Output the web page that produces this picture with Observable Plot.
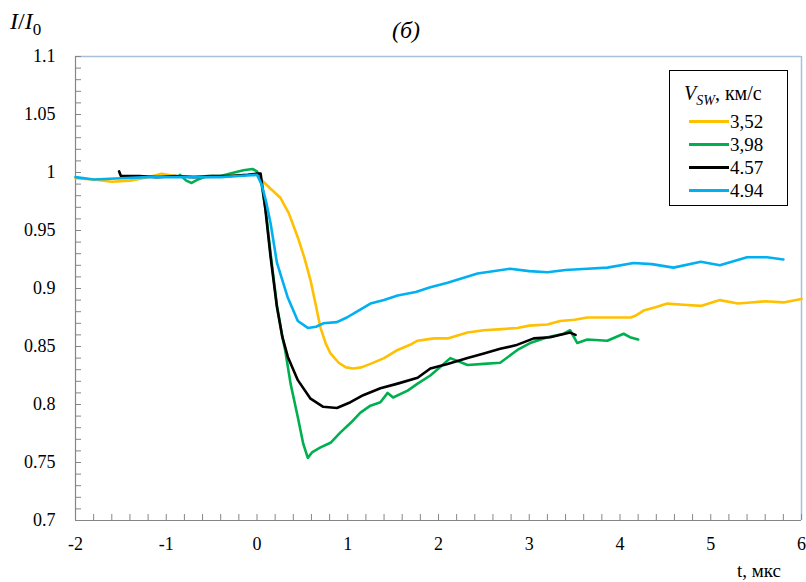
<!DOCTYPE html>
<html>
<head>
<meta charset="utf-8">
<script src="https://cdn.jsdelivr.net/npm/d3@7"></script>
<script src="https://cdn.jsdelivr.net/npm/@observablehq/plot@0.6"></script>
</head>
<body style="margin:0;background:#fff">
<div id="wrap" style="position:relative;width:806px;height:582px;font-family:'Liberation Serif' !important;color:#000">
  <div style="position:absolute;left:10px;top:9px;font-size:24px;line-height:1;white-space:nowrap;font-family:'Liberation Serif' !important"><i style="font-family:'Liberation Serif' !important">I</i>/<i style="font-family:'Liberation Serif' !important">I</i><sub style="font-size:17px;font-family:'Liberation Serif' !important">0</sub></div>
  <div style="position:absolute;left:392px;top:18px;font-size:24px;line-height:1;white-space:nowrap;font-family:'Liberation Serif' !important"><i style="font-family:'Liberation Serif' !important">(б)</i></div>
  <div style="position:absolute;left:737px;top:561px;font-size:19px;line-height:1;white-space:nowrap;font-family:'Liberation Serif' !important">t, мкс</div>
  <div id="legend" style="position:absolute;left:669px;top:70px;width:117px;height:134px;border:1.5px solid #000;background:#fff;font-family:'Liberation Serif' !important;z-index:2">
    <div style="position:absolute;left:14px;top:12px;font-size:20px;line-height:1;white-space:nowrap;font-family:'Liberation Serif' !important"><i style="font-family:'Liberation Serif' !important">V<sub style="font-size:14px;font-family:'Liberation Serif' !important">SW</sub></i>, км/с</div>
  </div>
</div>
<script>
// Series names (legend)
const seriesNames = ["3,52", "3,98", "4.57", "4.94"];
const seriesColors = ["#FFC000", "#00B050", "#000000", "#00B0F0"];

// Series 3,52
const t352 = [-2, -1.8, -1.6, -1.4, -1.2, -1.05, -0.9, -0.6, -0.3, -0.1, 0, 0.07, 0.15, 0.26, 0.35, 0.45, 0.52, 0.59, 0.65, 0.70, 0.76, 0.81, 0.9, 0.98, 1.06, 1.15, 1.25, 1.4, 1.55, 1.7, 1.77, 1.95, 2.1, 2.32, 2.5, 2.7, 2.87, 3.0, 3.2, 3.34, 3.5, 3.64, 3.9, 4.12, 4.18, 4.26, 4.4, 4.52, 4.7, 4.89, 5.1, 5.3, 5.44, 5.6, 5.8, 6.0];
const y352 = [0.995, 0.994, 0.992, 0.993, 0.996, 0.999, 0.997, 0.996, 0.997, 0.998, 0.998, 0.992, 0.986, 0.978, 0.965, 0.944, 0.927, 0.907, 0.885, 0.866, 0.852, 0.844, 0.836, 0.832, 0.831, 0.832, 0.835, 0.840, 0.847, 0.852, 0.855, 0.857, 0.857, 0.862, 0.864, 0.865, 0.866, 0.868, 0.869, 0.872, 0.873, 0.875, 0.875, 0.875, 0.877, 0.881, 0.884, 0.887, 0.886, 0.885, 0.890, 0.887, 0.888, 0.889, 0.888, 0.891];

// Series 3,98
const t398 = [-0.85, -0.78, -0.72, -0.65, -0.55, -0.4, -0.25, -0.15, -0.05, 0.0, 0.05, 0.1, 0.15, 0.22, 0.28, 0.31, 0.37, 0.45, 0.51, 0.56, 0.61, 0.70, 0.81, 0.92, 1.03, 1.14, 1.25, 1.36, 1.44, 1.50, 1.66, 1.77, 1.91, 2.0, 2.13, 2.32, 2.50, 2.68, 2.87, 3.01, 3.2, 3.38, 3.45, 3.53, 3.64, 3.86, 4.04, 4.11, 4.2];
const y398 = [0.998, 0.993, 0.991, 0.994, 0.997, 0.997, 1.0, 1.002, 1.003, 1.001, 0.99, 0.965, 0.93, 0.885, 0.858, 0.847, 0.818, 0.789, 0.766, 0.754, 0.759, 0.763, 0.767, 0.776, 0.784, 0.793, 0.799, 0.802, 0.810, 0.806, 0.812, 0.818, 0.825, 0.831, 0.840, 0.834, 0.835, 0.836, 0.847, 0.853, 0.858, 0.861, 0.864, 0.853, 0.856, 0.855, 0.861, 0.858, 0.856];

// Series 4.57
const t457 = [-1.52, -1.5, -1.3, -1.1, -0.9, -0.7, -0.5, -0.3, -0.1, 0, 0.04, 0.09, 0.15, 0.22, 0.28, 0.34, 0.45, 0.59, 0.73, 0.88, 1.03, 1.17, 1.36, 1.55, 1.77, 1.91, 2.1, 2.32, 2.5, 2.68, 2.85, 3.05, 3.23, 3.45, 3.51];
const y457 = [1.001, 0.997, 0.997, 0.996, 0.997, 0.996, 0.997, 0.997, 0.998, 0.999, 0.999, 0.970, 0.927, 0.884, 0.858, 0.841, 0.821, 0.805, 0.798, 0.797, 0.802, 0.808, 0.814, 0.818, 0.823, 0.831, 0.835, 0.840, 0.844, 0.848, 0.851, 0.857, 0.858, 0.862, 0.860];

// Series 4.94
const t494 = [-2, -1.8, -1.5, -1.2, -1, -0.7, -0.4, -0.2, 0, 0.05, 0.1, 0.15, 0.22, 0.34, 0.45, 0.56, 0.65, 0.73, 0.88, 0.99, 1.1, 1.25, 1.4, 1.55, 1.75, 1.91, 2.1, 2.43, 2.79, 3.0, 3.2, 3.4, 3.64, 3.86, 4.15, 4.35, 4.59, 4.89, 5.1, 5.4, 5.62, 5.8];
const y494 = [0.996, 0.994, 0.995, 0.996, 0.996, 0.996, 0.996, 0.997, 0.998, 0.99, 0.975, 0.956, 0.922, 0.892, 0.872, 0.866, 0.867, 0.870, 0.871, 0.875, 0.880, 0.887, 0.890, 0.894, 0.897, 0.901, 0.905, 0.913, 0.917, 0.915, 0.914, 0.916, 0.917, 0.918, 0.922, 0.921, 0.918, 0.923, 0.920, 0.927, 0.927, 0.925];

// Axis ticks
const xTicks = [-2, -1, 0, 1, 2, 3, 4, 5, 6];
const yTicks = [0.7, 0.75, 0.8, 0.85, 0.9, 0.95, 1, 1.05, 1.1];
const xMinor = d3.range(0, 41).map(i => +(-2 + i * 0.2).toFixed(2));
const yMinor = d3.range(0, 41).map(i => +(0.7 + i * 0.01).toFixed(3));

const allT = [t352, t398, t457, t494];
const allY = [y352, y398, y457, y494];
const data = allT.flatMap((ts, k) => ts.map((t, i) => ({series: seriesNames[k], t, v: allY[k][i]})));

const SERIF = "'Liberation Serif'";

const chart = Plot.plot({
  width: 806,
  height: 582,
  marginLeft: 75,
  marginRight: 5,
  marginTop: 56,
  marginBottom: 62,
  style: {fontFamily: SERIF, fontSize: "18px", color: "#000", background: "transparent"},
  x: {domain: [-2, 6], label: null},
  y: {domain: [0.7, 1.1], label: null},
  color: {domain: seriesNames, range: seriesColors},
  marks: [
    Plot.ruleY([1.1], {stroke: "#a9c0da", strokeWidth: 1.5}),
    Plot.ruleX([6], {stroke: "#a9c0da", strokeWidth: 1.5}),
    Plot.axisX({ticks: xMinor, tickSize: -6, tickFormat: () => "", stroke: "#868686", label: null}),
    Plot.axisY({ticks: yMinor, tickSize: -6, tickFormat: () => "", stroke: "#868686", label: null}),
    Plot.axisX({ticks: xTicks, tickSize: 0, tickPadding: 17, tickFormat: d => String(d), fill: "#000", label: null}),
    Plot.axisY({ticks: yTicks, tickSize: 0, tickPadding: 20, tickFormat: d => String(+d.toFixed(2)), fill: "#000", label: null}),
    Plot.ruleX([-2], {stroke: "#868686", strokeWidth: 1.2}),
    Plot.ruleY([0.7], {stroke: "#868686", strokeWidth: 1.2}),
    Plot.line(data, {x: "t", y: "v", z: "series", stroke: "series", strokeWidth: 2.6, strokeLinejoin: "round"})
  ]
});
chart.style.setProperty("font-family", SERIF, "important");
chart.style.position = "absolute";
chart.style.left = "0";
chart.style.top = "0";
chart.querySelectorAll("g, text, tspan").forEach(el => { el.style.setProperty("font-family", SERIF, "important"); el.setAttribute("font-family", "Liberation Serif"); });

const wrap = document.getElementById("wrap");
wrap.insertBefore(chart, wrap.firstChild);

// Legend entries
const leg = document.getElementById("legend");
seriesNames.forEach((n, i) => {
  const d = document.createElement("div");
  d.innerHTML = `<span style="display:inline-block;width:40px;height:0;border-top:3px solid ${seriesColors[i]};vertical-align:middle;margin-right:1px;position:relative;top:-2px"></span>${n}`;
  Object.assign(d.style, {position: "absolute", left: "19px", top: `${41 + i * 23}px`, whiteSpace: "nowrap", lineHeight: "1", fontSize: "19px", color: "#000"});
  d.style.setProperty("font-family", SERIF, "important");
  leg.appendChild(d);
});
</script>
</body>
</html>
